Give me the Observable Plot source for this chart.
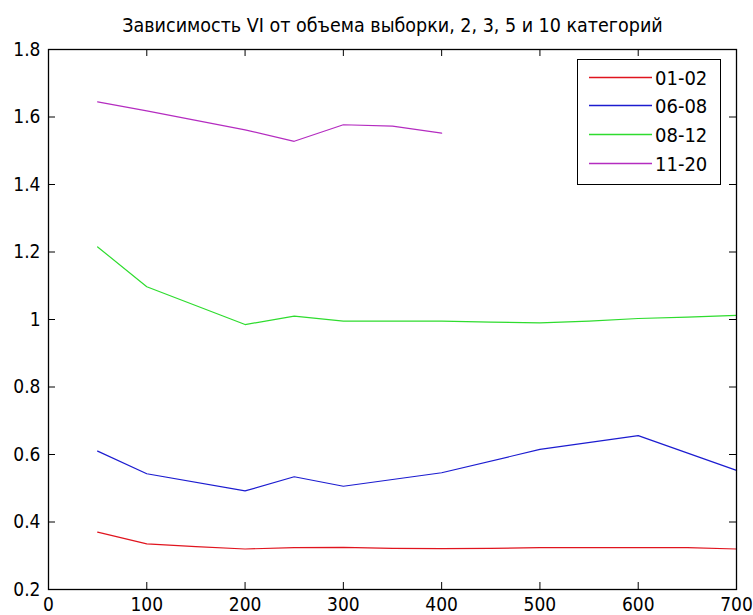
<!DOCTYPE html>
<html>
<head>
<meta charset="utf-8">
<script src="https://cdn.jsdelivr.net/npm/d3@7"></script>
<script src="https://cdn.jsdelivr.net/npm/@observablehq/plot@0.6"></script>
<style>
  html, body { margin: 0; padding: 0; background: #fff; }
  #wrap { position: relative; width: 753px; height: 615px; }
  #legend { position: absolute; left: 577px; top: 59px; width: 142px; height: 124px;
            border: 1px solid #000; background: #fff; box-sizing: content-box; }
  .row { position: absolute; left: 0; height: 20px; width: 142px; }
  .row svg { position: absolute; left: 11px; top: 0; }
  .row span { position: absolute; left: 77px; top: 1px; line-height: 20px; }
  .txt { font-family: "DejaVu Sans Condensed", "Liberation Sans", Arial, sans-serif; font-stretch: condensed; font-size: 20px; color: #000; }
</style>
</head>
<body>
<div id="wrap"></div>
<script>
const title = "Зависимость VI от объема выборки, 2, 3, 5 и 10 категорий";
const seriesNames = ["01-02", "06-08", "08-12", "11-20"];
const seriesColors = ["#e0141e", "#1c1cd0", "#2edc2e", "#b42cc0"];

const xTicks = [0, 100, 200, 300, 400, 500, 600, 700];
const yTicks = [0.2, 0.4, 0.6, 0.8, 1.0, 1.2, 1.4, 1.6, 1.8];

const xRed = [50, 100, 150, 200, 250, 300, 350, 400, 450, 500, 550, 600, 650, 700];
const yRed = [0.370, 0.335, 0.327, 0.320, 0.324, 0.325, 0.322, 0.321, 0.322, 0.324, 0.324, 0.324, 0.324, 0.320];

const xBlue = [50, 100, 200, 250, 300, 400, 500, 600, 700];
const yBlue = [0.610, 0.543, 0.492, 0.534, 0.506, 0.546, 0.615, 0.656, 0.553];

const xGreen = [50, 100, 200, 250, 300, 350, 400, 450, 500, 550, 600, 650, 700];
const yGreen = [1.215, 1.097, 0.985, 1.010, 0.995, 0.995, 0.995, 0.992, 0.990, 0.995, 1.003, 1.007, 1.012];

const xMag = [50, 100, 150, 200, 250, 300, 350, 400];
const yMag = [1.645, 1.618, 1.590, 1.562, 1.528, 1.577, 1.573, 1.552];

const seriesX = [xRed, xBlue, xGreen, xMag];
const seriesY = [yRed, yBlue, yGreen, yMag];
const data = seriesNames.flatMap((name, i) =>
  seriesX[i].map((x, j) => ({series: name, x, y: seriesY[i][j]})));

const W = 753, H = 615, mL = 48, mR = 17, mT = 49, mB = 26;
const innerH = H - mT - mB, innerW = W - mL - mR;
const tick = 7;
const fontFamily = '"DejaVu Sans Condensed", "Liberation Sans", Arial, sans-serif';

const chart = Plot.plot({
  width: W, height: H,
  marginLeft: mL, marginRight: mR, marginTop: mT, marginBottom: mB,
  style: {fontFamily, fontSize: "19px", color: "#000", background: "#fff", fontStretch: "condensed"},
  x: {domain: [0, 700]},
  y: {domain: [0.2, 1.8]},
  color: {domain: seriesNames, range: seriesColors},
  marks: [
    Plot.line(data, {x: "x", y: "y", stroke: "series", z: "series", strokeWidth: 1.2}),
    Plot.frame({stroke: "#000", strokeWidth: 1.3}),
    Plot.ruleX(xTicks, {x: d => d, insetTop: innerH - tick, stroke: "#000"}),
    Plot.ruleX(xTicks, {x: d => d, insetBottom: innerH - tick, stroke: "#000"}),
    Plot.ruleY(yTicks, {y: d => d, insetRight: innerW - tick, stroke: "#000"}),
    Plot.ruleY(yTicks, {y: d => d, insetLeft: innerW - tick, stroke: "#000"}),
    Plot.axisX(xTicks, {tickSize: 0, tickPadding: 8, label: null, tickFormat: d => String(d), fontSize: 19}),
    Plot.axisY(yTicks, {tickSize: 0, tickPadding: 8, label: null, tickFormat: d => String(+d.toFixed(1)), fontSize: 19}),
    Plot.text([title], {frameAnchor: "top", dy: -31, text: d => d, fontSize: 19.5, fill: "#000"})
  ]
});
const wrap = document.getElementById("wrap");
wrap.appendChild(chart);

const legend = document.createElement("div");
legend.id = "legend";
const rowTops = [7, 35, 64, 93];
seriesNames.forEach((name, i) => {
  const row = document.createElement("div");
  row.className = "row";
  row.style.top = rowTops[i] + "px";
  row.innerHTML = `<svg width="64" height="20"><line x1="0" x2="63" y1="10.5" y2="10.5" stroke="${seriesColors[i]}" stroke-width="1.3"/></svg><span class="txt">${name}</span>`;
  legend.appendChild(row);
});
wrap.appendChild(legend);
</script>
</body>
</html>
